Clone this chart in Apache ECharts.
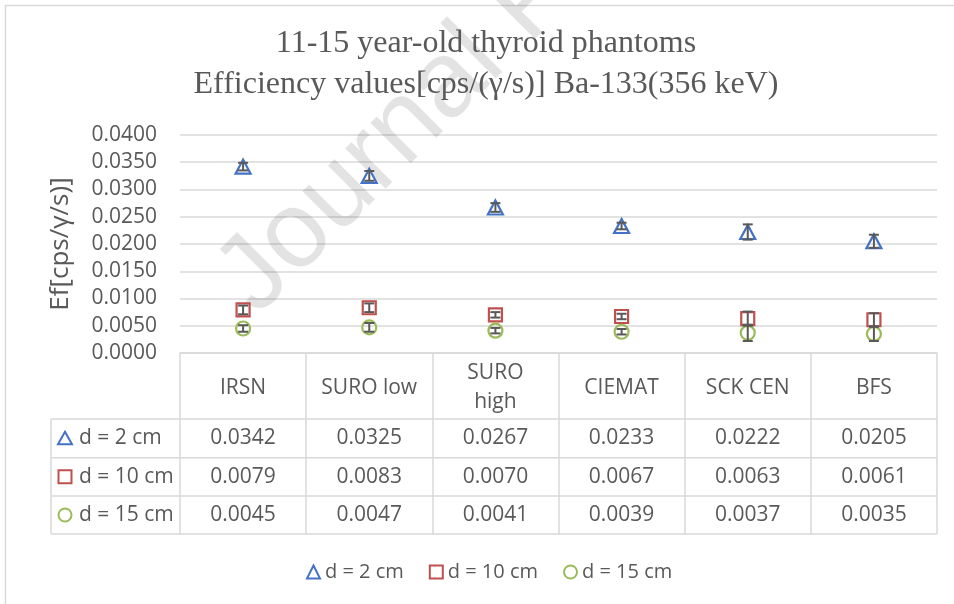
<!DOCTYPE html>
<html>
<head>
<meta charset="utf-8">
<script src="https://cdn.jsdelivr.net/npm/echarts@6/dist/echarts.min.js"></script>
<style>
  html, body { margin: 0; padding: 0; background: #fff; }
  #chart { width: 954px; height: 604px; }
</style>
</head>
<body>
<div id="chart"></div>
<script>
// 类别（表头）
const categories = ['IRSN', 'SURO low', 'SURO high', 'CIEMAT', 'SCK CEN', 'BFS'];
// 三个距离的效率值
const d2 = [0.0342, 0.0325, 0.0267, 0.0233, 0.0222, 0.0205];
const d10 = [0.0079, 0.0083, 0.0070, 0.0067, 0.0063, 0.0061];
const d15 = [0.0045, 0.0047, 0.0041, 0.0039, 0.0037, 0.0035];
// 误差棒
const err2 = [0.0007, 0.0009, 0.0008, 0.0006, 0.0014, 0.0012];
const err10 = [0.0008, 0.0008, 0.0005, 0.0005, 0.0013, 0.0012];
const err15 = [0.0006, 0.0008, 0.0005, 0.0005, 0.0015, 0.0013];
// 系列名称
const seriesNames = ['d = 2 cm', 'd = 10 cm', 'd = 15 cm'];
// y 轴刻度
const yMin = 0, yMax = 0.04, yStep = 0.005;

const FONT = 'Open Sans';
const TXT = '#595959';
const LINE = '#d9d9d9';
const colors = ['#4472C4', '#C0504D', '#9BBB59'];
const symbols = ['triangle', 'rect', 'circle'];
const symbolSizes = [[15, 14], 13, 14];
const allValues = [d2, d10, d15];
const allErrors = [err2, err10, err15];

const chart = echarts.init(document.getElementById('chart'));

// 误差棒
const errorBarRender = (params, api) => {
  const x = api.value(0);
  const y = api.value(1);
  const e = api.value(2);
  const top = api.coord([x, y + e]);
  const bot = api.coord([x, y - e]);
  const half = 5;
  const style = { stroke: '#595959', lineWidth: 2 };
  return {
    type: 'group',
    children: [
      { type: 'line', shape: { x1: top[0], y1: top[1], x2: bot[0], y2: bot[1] }, style },
      { type: 'line', shape: { x1: top[0] - half, y1: top[1], x2: top[0] + half, y2: top[1] }, style },
      { type: 'line', shape: { x1: bot[0] - half, y1: bot[1], x2: bot[0] + half, y2: bot[1] }, style }
    ]
  };
};

const series = [];
seriesNames.forEach((name, k) => {
  series.push({
    name,
    type: 'scatter',
    symbol: symbols[k],
    symbolSize: symbolSizes[k],
    data: allValues[k],
    itemStyle: { color: 'rgba(0,0,0,0)', borderColor: colors[k], borderWidth: 2.2, opacity: 1 },
    emphasis: { disabled: true },
    z: 3
  });
  series.push({
    name: name + ' err',
    type: 'custom',
    renderItem: errorBarRender,
    encode: { x: 0, y: 1 },
    data: allValues[k].map((v, i) => [i, v, allErrors[k][i]]),
    z: 4,
    silent: true
  });
});

const option = {
  animation: false,
  backgroundColor: '#fff',
  title: {
    text: '11-15 year-old thyroid phantoms\nEfficiency values[cps/(γ/s)] Ba-133(356 keV)',
    left: 486,
    top: 23,
    padding: 0,
    textAlign: 'center',
    textStyle: {
      fontFamily: 'Liberation Serif',
      fontSize: 32,
      fontWeight: 'normal',
      color: TXT,
      lineHeight: 41
    }
  },
  legend: {
    data: seriesNames.map((n, k) => ({
      name: n,
      icon: symbols[k],
      itemStyle: { color: 'rgba(0,0,0,0)', borderColor: colors[k], borderWidth: 2 }
    })),
    left: 301,
    top: 557,
    itemWidth: 13,
    itemHeight: 13,
    itemGap: 25,
    textStyle: { fontFamily: FONT, fontSize: 20, color: TXT }
  },
  grid: { left: 180, right: 17, top: 135, bottom: 251, outerBoundsMode: 'none' },
  xAxis: {
    type: 'category',
    data: categories,
    boundaryGap: true,
    axisLine: { show: true, lineStyle: { color: LINE, width: 1.5 } },
    axisTick: { show: true, interval: 0, length: 181, lineStyle: { color: LINE, width: 1.5 } },
    axisLabel: {
      interval: 0,
      margin: 35,
      verticalAlign: 'middle',
      lineHeight: 29,
      fontFamily: FONT,
      fontSize: 21,
      color: TXT,
      formatter: (v) => v === 'SURO high' ? 'SURO\nhigh' : v
    },
    splitLine: { show: false }
  },
  yAxis: {
    type: 'value',
    min: yMin,
    max: yMax,
    interval: yStep,
    name: 'Ef[cps/γ/s)]',
    nameLocation: 'middle',
    nameGap: 106,
    nameRotate: 90,
    nameTextStyle: { fontFamily: FONT, fontSize: 26, color: TXT },
    axisLine: { show: false },
    axisTick: { show: false },
    axisLabel: {
      margin: 23,
      fontFamily: FONT,
      fontSize: 21,
      color: TXT,
      formatter: (v) => v.toFixed(4)
    },
    splitLine: { lineStyle: { color: LINE, width: 1.5 } }
  },
  series
};

chart.setOption(option);

// 数据表（用图表坐标换算列中心）
const buildTable = () => {
  const gridRight = 937;
  const tableLeft = 51;
  const rowTops = [419, 457.7, 496, 534];
  const els = [];
  // 外框
  els.push({
    type: 'rect', z: 0, silent: true,
    shape: { x: 5.5, y: 5.5, width: 1200, height: 1200 },
    style: { fill: 'none', stroke: LINE, lineWidth: 1.5 }
  });
  // 水印
  els.push({
    type: 'text', z: 1, silent: true,
    x: 236, y: 296, rotation: 45 * Math.PI / 180,
    style: {
      text: 'Journal Pre-proof',
      fontFamily: 'Liberation Sans',
      fontSize: 108,
      fill: 'rgba(0,0,0,0.11)',
      align: 'left',
      verticalAlign: 'middle'
    }
  });
  rowTops.forEach((y) => {
    els.push({
      type: 'line', silent: true,
      shape: { x1: tableLeft, y1: y, x2: gridRight, y2: y },
      style: { stroke: LINE, lineWidth: 1.5 }
    });
  });
  els.push({
    type: 'line', silent: true,
    shape: { x1: tableLeft, y1: rowTops[0], x2: tableLeft, y2: rowTops[3] },
    style: { stroke: LINE, lineWidth: 1.5 }
  });
  seriesNames.forEach((name, k) => {
    const cy = (rowTops[k] + rowTops[k + 1]) / 2;
    const ix = 65;
    let icon;
    if (symbols[k] === 'triangle') {
      icon = { type: 'polygon', shape: { points: [[ix, cy - 6.5], [ix + 7, cy + 6], [ix - 7, cy + 6]] } };
    } else if (symbols[k] === 'rect') {
      icon = { type: 'rect', shape: { x: ix - 6.5, y: cy - 6.5, width: 13, height: 13 } };
    } else {
      icon = { type: 'circle', shape: { cx: ix, cy: cy, r: 6.5 } };
    }
    icon.silent = true;
    icon.style = { fill: 'none', stroke: colors[k], lineWidth: 2 };
    els.push(icon);
    els.push({
      type: 'text', silent: true, x: 79, y: cy,
      style: { text: name, fontFamily: FONT, fontSize: 21, fill: TXT, align: 'left', verticalAlign: 'middle' }
    });
    allValues[k].forEach((v, i) => {
      const cx = chart.convertToPixel({ xAxisIndex: 0 }, i);
      els.push({
        type: 'text', silent: true, x: cx, y: cy,
        style: { text: v.toFixed(4), fontFamily: FONT, fontSize: 21, fill: TXT, align: 'center', verticalAlign: 'middle' }
      });
    });
  });
  chart.setOption({ graphic: { elements: els } });
};

buildTable();
</script>
</body>
</html>
